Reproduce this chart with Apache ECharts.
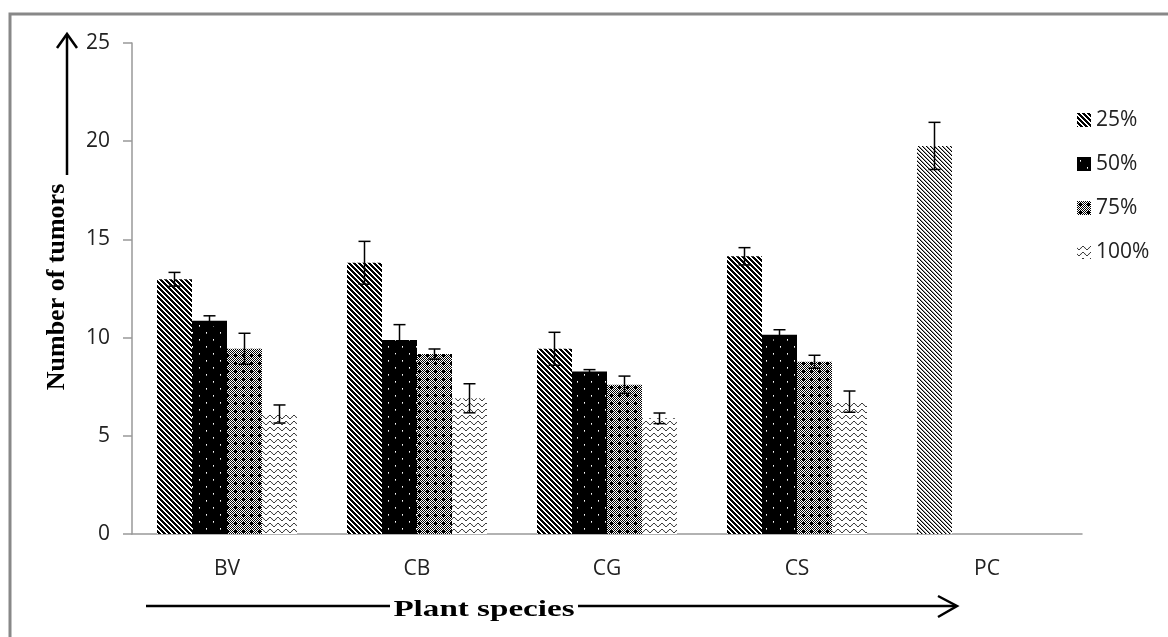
<!DOCTYPE html>
<html>
<head>
<meta charset="utf-8">
<script src="https://cdn.jsdelivr.net/npm/echarts@6/dist/echarts.min.js"></script>
<style>
	html,body{margin:0;padding:0;background:#fff;}
	#chart{width:1168px;height:637px;}
</style>
</head>
<body>
<div id="chart"></div>
<script>
	var categories = ['BV','CB','CG','CS','PC'];
	var seriesNames = ['25%','50%','75%','100%'];

	var val25  = [12.97, 13.81, 9.43, 14.14, 19.76];
	var val50  = [10.86, 9.88, 8.28, 10.15, null];
	var val75  = [9.43, 9.16, 7.60, 8.77, null];
	var val100 = [6.11, 6.91, 5.89, 6.74, null];

	var err25  = [0.35, 1.09, 0.84, 0.44, 1.20];
	var err50  = [0.25, 0.78, 0.09, 0.25, null];
	var err75  = [0.79, 0.26, 0.44, 0.33, null];
	var err100 = [0.46, 0.74, 0.27, 0.54, null];

	var yMin = 0, yMax = 25, yStep = 5;

	var BAR_W = 35;
	var FONT = '"Open Sans", "Liberation Sans", sans-serif';
	var SERIF = '"Liberation Serif", "DejaVu Serif", serif';

	// small canvas tiles for the black & white fills
	makeTile = function(w, h, draw){
		var c = document.createElement('canvas');
		c.width = w; c.height = h;
		var ctx = c.getContext('2d');
		ctx.fillStyle = '#fff';
		ctx.fillRect(0, 0, w, h);
		draw(ctx);
		return {image: c, repeat: 'repeat'};
	};

	hatch = function(period, dark, col){
		return makeTile(period, period, function(ctx){
			ctx.fillStyle = col;
			for(var y = 0; y < period; y++){
				for(var x = 0; x < period; x++){
					if(((x - y) % period + period) % period < dark){
						ctx.fillRect(x, y, 1, 1);
					}
				}
			}
		});
	};

	var fill25 = hatch(5, 3, '#000');
	var fillPC = makeTile(4, 4, function(ctx){
		for(var i = 0; i < 4; i++){
			ctx.fillStyle = '#000';
			ctx.fillRect(i, i, 1, 1);
			ctx.fillStyle = '#999';
			ctx.fillRect((i + 1) % 4, i, 1, 1);
		}
	});
	var fill50 = makeTile(14, 14, function(ctx){
		ctx.fillStyle = '#000';
		ctx.fillRect(0, 0, 14, 14);
		ctx.fillStyle = '#fff';
		ctx.fillRect(3, 3, 1, 1);
		ctx.fillRect(10, 10, 1, 1);
		ctx.fillStyle = '#aaa';
		ctx.fillRect(3, 4, 1, 1);
		ctx.fillRect(10, 11, 1, 1);
	});
	var fill75 = makeTile(8, 8, function(ctx){
		ctx.fillStyle = '#000';
		for(var y = 0; y < 8; y++){
			for(var x = 0; x < 8; x++){
				if((x + y) % 2 == 0) ctx.fillRect(x, y, 1, 1);
			}
		}
		ctx.fillRect(3, 2, 1, 3);
		ctx.fillRect(2, 3, 3, 1);
	});
	var fill100 = makeTile(8, 6, function(ctx){
		ctx.strokeStyle = '#000';
		ctx.lineWidth = 1;
		ctx.beginPath();
		for(var x = -1; x <= 9; x += 0.5){
			var y = 3 + 1.6 * Math.sin(2 * Math.PI * x / 8);
			if(x == -1) ctx.moveTo(x, y); else ctx.lineTo(x, y);
		}
		ctx.stroke();
	});

	var fills = [fill25, fill50, fill75, fill100];
	var values = [val25, val50, val75, val100];
	var errors = [err25, err50, err75, err100];

	var barSeries = [];
	for(var s = 0; s < seriesNames.length; s++){
		var data = [];
		for(var i = 0; i < categories.length; i++){
			if(s == 0 && categories[i] == 'PC'){
				data.push({value: values[s][i], itemStyle: {color: fillPC}});
			}else{
				data.push(values[s][i]);
			}
		}
		barSeries.push({
			name: seriesNames[s],
			type: 'bar',
			barWidth: BAR_W,
			barGap: '0%',
			itemStyle: {color: fills[s]},
			data: data,
			silent: true
		});
	}

	var errData = [];
	for(var s = 0; s < seriesNames.length; s++){
		for(var i = 0; i < categories.length; i++){
			if(values[s][i] != null){
				errData.push([i, s, values[s][i], errors[s][i]]);
			}
		}
	}

	barSeries.push({
		type: 'custom',
		name: 'err',
		silent: true,
		z: 5,
		data: errData,
		encode: {x: 0, y: 2},
		renderItem: function(params, api){
			var cat = api.value(0), s = api.value(1), m = api.value(2), e = api.value(3);
			var hi = api.coord([cat, m + e]);
			var lo = api.coord([cat, m - e]);
			var x = hi[0] + (s - 1.5) * BAR_W;
			var st = {stroke: '#000', lineWidth: 1.5};
			return {
				type: 'group',
				children: [
					{type: 'line', shape: {x1: x, y1: hi[1], x2: x, y2: lo[1]}, style: st},
					{type: 'line', shape: {x1: x - 6, y1: hi[1], x2: x + 6, y2: hi[1]}, style: st},
					{type: 'line', shape: {x1: x - 6, y1: lo[1], x2: x + 6, y2: lo[1]}, style: st}
				]
			};
		}
	});

	var arrowStyle = {stroke: '#000', lineWidth: 2.5, fill: null};

	var myChart = echarts.init(document.getElementById('chart'));
	var option = {
		animation: false,
		backgroundColor: '#fff',
		grid: {left: 132, right: 86, top: 43, bottom: 103},
		legend: {
			orient: 'vertical',
			left: 1077,
			top: 109,
			padding: 0,
			itemGap: 22,
			itemWidth: 14,
			itemHeight: 14,
			icon: 'rect',
			data: seriesNames,
			textStyle: {fontFamily: FONT, fontSize: 21, color: '#222', lineHeight: 22}
		},
		xAxis: {
			type: 'category',
			data: categories,
			axisLine: {lineStyle: {color: '#999', width: 1.5}},
			axisTick: {length: 9, lineStyle: {color: '#999', width: 1.5}},
			axisLabel: {fontFamily: FONT, fontSize: 21, color: '#222', margin: 25}
		},
		yAxis: {
			type: 'value',
			min: yMin,
			max: yMax,
			interval: yStep,
			splitLine: {show: false},
			axisLine: {show: true, lineStyle: {color: '#999', width: 1.5}},
			axisTick: {show: true, length: 9, lineStyle: {color: '#999', width: 1.5}},
			axisLabel: {fontFamily: FONT, fontSize: 21, color: '#222', margin: 22}
		},
		graphic: [
			{type: 'rect', shape: {x: 10, y: 14, width: 1300, height: 800}, style: {stroke: '#888', lineWidth: 3, fill: null}, silent: true},
			{type: 'line', shape: {x1: 67, y1: 175, x2: 67, y2: 35}, style: arrowStyle},
			{type: 'polyline', shape: {points: [[57, 48], [67, 34], [77, 48]]}, style: arrowStyle},
			{type: 'text', x: 57, y: 287, rotation: Math.PI / 2,
				style: {text: 'Number of tumors', font: 'bold 26px ' + SERIF, fill: '#000', textAlign: 'center', textVerticalAlign: 'middle'}},
			{type: 'line', shape: {x1: 146, y1: 606, x2: 390, y2: 606}, style: arrowStyle},
			{type: 'line', shape: {x1: 578, y1: 606, x2: 956, y2: 606}, style: arrowStyle},
			{type: 'polyline', shape: {points: [[938, 596], [957, 606], [938, 617]]}, style: arrowStyle},
			{type: 'text', x: 484, y: 610, scaleX: 1.38,
				style: {text: 'Plant species', font: 'bold 24px ' + SERIF, fill: '#000', textAlign: 'center', textVerticalAlign: 'middle'}}
		],
		series: barSeries
	};
	myChart.setOption(option);
</script>
</body>
</html>
